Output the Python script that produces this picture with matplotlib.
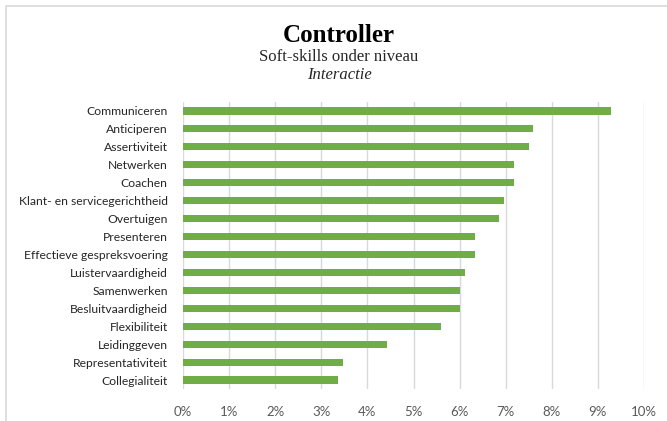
import matplotlib.pyplot as plt
from matplotlib.patches import Rectangle
from matplotlib.ticker import FuncFormatter

# Soft-skills, top to bottom as in the chart
skills = [
    'Communiceren', 'Anticiperen', 'Assertiviteit', 'Netwerken', 'Coachen',
    'Klant- en servicegerichtheid', 'Overtuigen', 'Presenteren',
    'Effectieve gespreksvoering', 'Luistervaardigheid', 'Samenwerken',
    'Besluitvaardigheid', 'Flexibiliteit', 'Leidinggeven',
    'Representativiteit', 'Collegialiteit'
]
shares = [9.28, 7.59, 7.50, 7.17, 7.17, 6.96, 6.85, 6.33,
          6.33, 6.11, 6.00, 6.00, 5.60, 4.43, 3.47, 3.36]  # percent
xticks = list(range(0, 11))

W, H = 667, 421
fig = plt.figure(figsize=(W / 100, H / 100), dpi=100)

# Chart area border (light grey, like Excel)
fig.patches.append(Rectangle((6 / W, -0.05), 1.2, 1 - 6 / H + 0.05,
                             transform=fig.transFigure, fill=False,
                             edgecolor='#d9d9d9', linewidth=1.2))

ax = fig.add_axes([183 / W, 1 - 389 / H, (644 - 183) / W, (389 - 102) / H])

ypos = list(range(len(skills)))[::-1]
ax.barh(ypos, shares, height=0.4, color='#70ad47', zorder=3)
ax.set_ylim(-0.5, len(skills) - 0.5)
ax.set_xlim(0, 10)
ax.set_yticks(ypos)
ax.set_yticklabels(skills, fontsize=8.7, color='#262626', family='Lato')
ax.set_xticks(xticks)
ax.xaxis.set_major_formatter(FuncFormatter(lambda v, p: f'{v:.0f}%'))
for lab in ax.get_xticklabels():
    lab.set_family('Lato')
ax.tick_params(axis='x', labelsize=9.5, labelcolor='#595959', length=0, pad=12)
ax.tick_params(axis='y', length=0, pad=11)
ax.grid(axis='x', color='#d9d9d9', linewidth=1, zorder=0)
for s in ax.spines.values():
    s.set_visible(False)

# Titles
fig.text(339 / W, 1 - 35 / H, 'Controller', ha='center', va='center',
         fontsize=18, fontweight='bold', family='Liberation Serif')
fig.text(339 / W, 1 - 57 / H, 'Soft-skills onder niveau', ha='center', va='center',
         fontsize=12, family='Liberation Serif', color='#262626')
fig.text(339 / W, 1 - 75 / H, 'Interactie', ha='center', va='center',
         fontsize=12, family='Liberation Serif', style='italic', color='#262626')

fig.savefig('out.png', dpi=100)
